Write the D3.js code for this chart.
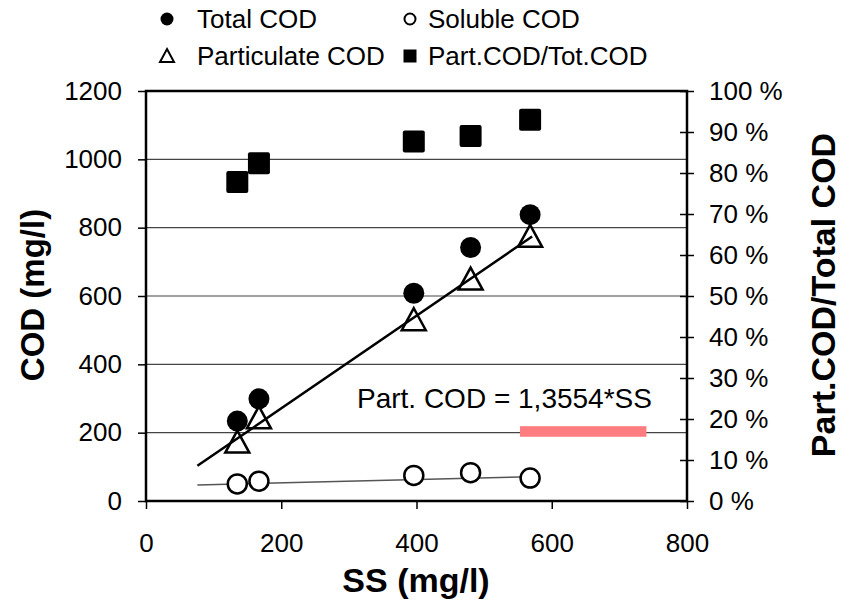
<!DOCTYPE html>
<html>
<head>
<meta charset="utf-8">
<script src="https://cdn.jsdelivr.net/npm/d3@7"></script>
<style>
  body { margin: 0; background: #fff; }
  text { font-family: "Liberation Sans", Arial, sans-serif; fill: #000; }
</style>
</head>
<body>
<div id="chart"></div>
<script>
// values
const ss        = [135, 167, 396, 480, 568];
const totalCod  = [234, 299, 608, 742, 838];
const partCod   = [174, 245, 532, 651, 776];
const solCod    = [50, 58, 75, 83, 67];
const partRatio = [0.778, 0.824, 0.877, 0.890, 0.930];

const xTicks = [0, 200, 400, 600, 800];
const yTicks = [0, 200, 400, 600, 800, 1000, 1200];
const y2Ticks = [0, 0.1, 0.2, 0.3, 0.4, 0.5, 0.6, 0.7, 0.8, 0.9, 1.0];

const partSlope = 1.3554;
const partTrendSS = [76, 571];
const solTrendSS = [76, 571];
const solTrendCod = [47, 71];
const redBarSS = [553, 740];
const redBarCod = [188, 219];

const W = 853, H = 602;
const margin = {top: 91, right: 166, bottom: 101, left: 146};
const width = W - margin.left - margin.right;
const height = H - margin.top - margin.bottom;

const svg = d3.select("#chart").append("svg")
  .attr("width", W)
  .attr("height", H);

const g = svg.append("g")
  .attr("transform", "translate(" + margin.left + "," + margin.top + ")");

const x = d3.scaleLinear().domain([0, 800]).range([0, width]);
const y = d3.scaleLinear().domain([0, 1200]).range([height, 0]);
const y2 = d3.scaleLinear().domain([0, 1]).range([height, 0]);

// gridlines
g.selectAll(".grid").data(yTicks.filter(d => d > 0 && d < 1200)).enter()
  .append("line")
  .attr("x1", 0).attr("x2", width)
  .attr("y1", d => y(d)).attr("y2", d => y(d))
  .attr("stroke", "#444").attr("stroke-width", 1.2);

// frame
g.append("rect")
  .attr("x", 0).attr("y", 0).attr("width", width).attr("height", height)
  .attr("fill", "none").attr("stroke", "#000").attr("stroke-width", 2.5);

// left axis
const yAxis = d3.axisLeft(y).tickValues(yTicks).tickSize(8).tickPadding(16).tickFormat(d3.format("d"));
const gy = g.append("g").call(yAxis);
// bottom axis
const xAxis = d3.axisBottom(x).tickValues(xTicks).tickSize(8).tickPadding(25).tickFormat(d3.format("d"));
const gx = g.append("g").attr("transform", "translate(0," + height + ")").call(xAxis);
// right axis
const y2Axis = d3.axisRight(y2).tickValues(y2Ticks).tickSize(7).tickPadding(15)
  .tickFormat(d => Math.round(d * 100) + " %");
const gy2 = g.append("g").attr("transform", "translate(" + width + ",0)").call(y2Axis);
gy2.selectAll(".tick line").attr("x1", -7);

[gx, gy, gy2].forEach(a => {
  a.select(".domain").remove();
  a.selectAll(".tick line").attr("stroke", "#000").attr("stroke-width", 1.5);
  a.selectAll(".tick text").style("font-size", "26px")
    .style("font-family", "'Liberation Sans', Arial, sans-serif").attr("fill", "#000");
});
gx.selectAll(".tick text").attr("dy", "0.71em");

// red bar
g.append("rect")
  .attr("x", x(redBarSS[0])).attr("width", x(redBarSS[1]) - x(redBarSS[0]))
  .attr("y", y(redBarCod[1])).attr("height", y(redBarCod[0]) - y(redBarCod[1]))
  .attr("fill", "#ff7c80");

// trend lines
g.append("line")
  .attr("x1", x(solTrendSS[0])).attr("y1", y(solTrendCod[0]))
  .attr("x2", x(solTrendSS[1])).attr("y2", y(solTrendCod[1]))
  .attr("stroke", "#555").attr("stroke-width", 1.5);

const data = ss.map((s, i) => ({ss: s, tot: totalCod[i], part: partCod[i], sol: solCod[i], ratio: partRatio[i]}));

// squares
g.selectAll(".sq").data(data).enter().append("rect")
  .attr("x", d => x(d.ss) - 11).attr("y", d => y2(d.ratio) - 11)
  .attr("width", 22).attr("height", 22).attr("rx", 2)
  .attr("fill", "#000");

// soluble
g.selectAll(".sol").data(data).enter().append("circle")
  .attr("cx", d => x(d.ss)).attr("cy", d => y(d.sol)).attr("r", 9.5)
  .attr("fill", "#fff").attr("stroke", "#000").attr("stroke-width", 2.5);

// total
g.selectAll(".tot").data(data).enter().append("circle")
  .attr("cx", d => x(d.ss)).attr("cy", d => y(d.tot)).attr("r", 10.5)
  .attr("fill", "#000");

// particulate triangles
const tri = "M0,-11L12,11L-12,11Z";
g.selectAll(".part").data(data).enter().append("path")
  .attr("transform", d => "translate(" + x(d.ss) + "," + y(d.part) + ")")
  .attr("d", tri)
  .attr("fill", "#fff").attr("stroke", "#000").attr("stroke-width", 2.5)
  .attr("stroke-linejoin", "miter");

// particulate regression
g.append("line")
  .attr("x1", x(partTrendSS[0])).attr("y1", y(partSlope * partTrendSS[0]))
  .attr("x2", x(partTrendSS[1])).attr("y2", y(partSlope * partTrendSS[1]))
  .attr("stroke", "#000").attr("stroke-width", 2.5);

// equation label
g.append("text")
  .attr("x", x(312)).attr("y", y(273))
  .style("font-size", "28px")
  .text("Part. COD = 1,3554*SS");

// axis titles
svg.append("text")
  .attr("transform", "translate(44,295) rotate(-90)")
  .attr("text-anchor", "middle")
  .style("font-size", "33px").style("font-weight", "bold")
  .text("COD (mg/l)");

svg.append("text")
  .attr("transform", "translate(835,295) rotate(-90)")
  .attr("text-anchor", "middle")
  .style("font-size", "34px").style("font-weight", "bold")
  .text("Part.COD/Total COD");

svg.append("text")
  .attr("x", 416).attr("y", 592)
  .attr("text-anchor", "middle")
  .style("font-size", "34px").style("font-weight", "bold")
  .text("SS (mg/l)");

// legend
const leg = svg.append("g");
const legItems = [
  {label: "Total COD", col: 0, row: 0, kind: "dot"},
  {label: "Soluble COD", col: 1, row: 0, kind: "ring"},
  {label: "Particulate COD", col: 0, row: 1, kind: "tri"},
  {label: "Part.COD/Tot.COD", col: 1, row: 1, kind: "sq"}
];
const colX = [167, 410];
const colGap = [30, 18];
const rowY = [28, 65];
legItems.forEach(it => {
  const mx = colX[it.col], my = rowY[it.row] - 9;
  if (it.kind === "dot") {
    leg.append("circle").attr("cx", mx).attr("cy", my).attr("r", 6.5).attr("fill", "#000");
  } else if (it.kind === "ring") {
    leg.append("circle").attr("cx", mx).attr("cy", my).attr("r", 5.5)
      .attr("fill", "#fff").attr("stroke", "#000").attr("stroke-width", 2);
  } else if (it.kind === "tri") {
    leg.append("path").attr("transform", "translate(" + mx + "," + my + ")")
      .attr("d", "M0,-7L7,6L-7,6Z").attr("fill", "#fff").attr("stroke", "#000").attr("stroke-width", 2);
  } else {
    leg.append("rect").attr("x", mx - 6.5).attr("y", my - 6.5).attr("width", 13).attr("height", 13).attr("fill", "#000");
  }
  leg.append("text")
    .attr("x", mx + colGap[it.col]).attr("y", rowY[it.row])
    .style("font-size", "26px")
    .text(it.label);
});
</script>
</body>
</html>
